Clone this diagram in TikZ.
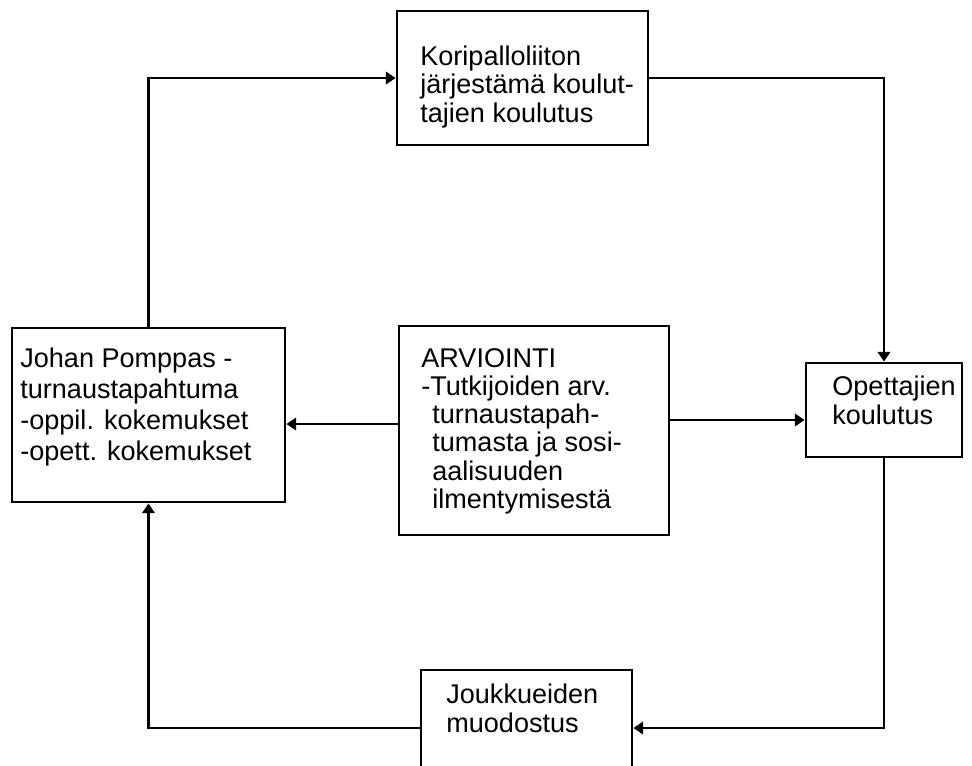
\documentclass[tikz,border=0pt]{standalone}
\usepackage{fontspec}
\setmainfont{Liberation Sans}
\usetikzlibrary{arrows.meta}
\newdimen\px
\px=0.02cm
\begin{document}
\begin{tikzpicture}[x=\px,y=-\px,
  laatikko/.style={draw,line width=1.6pt,inner sep=0pt},
  teksti/.style={anchor=base west,align=left,inner sep=0pt},
  nuoli/.style={line width=1.6pt,-{Triangle[length=5.5pt,width=7pt]}}]
\useasboundingbox (0,0) rectangle (972,765);
\clip (0,0) rectangle (972,765);
% laatikot
\node[laatikko,minimum width=251*\px,minimum height=134*\px] (liitto) at (522.5,78) {};
\node[laatikko,minimum width=156*\px,minimum height=94*\px] (koulutus) at (884,410) {};
\node[laatikko,minimum width=270*\px,minimum height=209*\px] (arviointi) at (534,430.5) {};
\node[laatikko,minimum width=273*\px,minimum height=174*\px] (tapahtuma) at (148.5,415) {};
\node[laatikko,minimum width=211*\px,minimum height=116*\px] (joukkueet) at (526.5,728) {};
% tekstit (base = viimeinen rivi)
\node[teksti,font=\fontsize{15.4}{16.2}\selectfont] (liitto-t) at (420,122)
  {Koripalloliiton\\järjestämä koulut-\\tajien koulutus};
\node[teksti,font=\fontsize{15.4}{16.5}\selectfont] (koulutus-t) at (832,424)
  {Opettajien\\koulutus};
\node[teksti,font=\fontsize{15.4}{16.1}\selectfont] (arviointi-t) at (421,508.5)
  {ARVIOINTI\\-Tutkijoiden arv.\\\hspace*{0.22cm}turnaustapah-\\\hspace*{0.22cm}tumasta ja sosi-\\\hspace*{0.22cm}aalisuuden\\\hspace*{0.22cm}ilmentymisestä};
\node[teksti,font=\fontsize{15.4}{17.6}\selectfont] (tapahtuma-t) at (20,460)
  {Johan Pomppas -\\turnaustapahtuma\\-oppil. kokemukset\\-opett. kokemukset};
\node[teksti,font=\fontsize{15.4}{16.5}\selectfont] (joukkueet-t) at (446,732)
  {Joukkueiden\\muodostus};
% nuolet
\draw[nuoli] (tapahtuma.north) |- (liitto.west);
\draw[nuoli] (liitto.east) -| (koulutus.north);
\draw[nuoli] (koulutus.south) |- (joukkueet.east);
\draw[nuoli] (joukkueet.west) -| (tapahtuma.south);
\draw[nuoli] (arviointi.west |- 0,424) -- (tapahtuma.east |- 0,424);
\draw[nuoli] (arviointi.east |- 0,420) -- (koulutus.west |- 0,420);
\end{tikzpicture}
\end{document}
